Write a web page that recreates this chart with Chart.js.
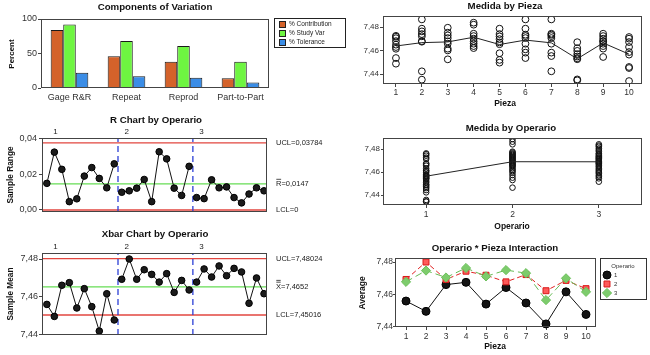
<!DOCTYPE html>
<html><head><meta charset="utf-8">
<script src="https://cdn.jsdelivr.net/npm/chart.js@4/dist/chart.umd.min.js"></script>
<style>
html,body{margin:0;padding:0;background:#fff;}
#wrap{position:relative;width:650px;height:355px;overflow:hidden;background:#fff;}
canvas{position:absolute;left:0;top:0;}
</style></head><body>
<div id="wrap">
<canvas id="c1" width="650" height="355"></canvas>
<canvas id="c2" width="650" height="355"></canvas>
<canvas id="c3" width="650" height="355"></canvas>
<canvas id="c4" width="650" height="355"></canvas>
<canvas id="c5" width="650" height="355"></canvas>
<canvas id="c6" width="650" height="355"></canvas>
</div>
<script>
// ---------------- DATA ----------------
const componentCats = ['Gage R&R', 'Repeat', 'Reprod', 'Part-to-Part'];
const seriesNames = ['% Contribution', '% Study Var', '% Tolerance'];
const pctContribution = [84, 46, 38, 14];
const pctStudyVar = [92, 68, 61, 38];
const pctTolerance = [22, 17, 15, 8];
const percentTicks = [0, 50, 100];

const operarioNames = ['1', '2', '3'];
const rangeOp1 = [0.0150, 0.0326, 0.0229, 0.0047, 0.0063, 0.0191, 0.0239, 0.0178, 0.0125, 0.0260];
const rangeOp2 = [0.0100, 0.0108, 0.0123, 0.0172, 0.0047, 0.0328, 0.0288, 0.0123, 0.0082, 0.0246];
const rangeOp3 = [0.0070, 0.0064, 0.0170, 0.0125, 0.0130, 0.0070, 0.0040, 0.0090, 0.0125, 0.0108];
const rangeLimits = [0.03784, 0.0147, 0];          // UCL, Rbar, LCL
const rangeTicks = [0, 0.02, 0.04];

const meanOp1 = [7.4558, 7.4494, 7.4660, 7.4674, 7.4539, 7.4642, 7.4546, 7.4416, 7.4615, 7.4475];
const meanOp2 = [7.4692, 7.4800, 7.4692, 7.4743, 7.4718, 7.4677, 7.4722, 7.4622, 7.4686, 7.4635];
const meanOp3 = [7.4677, 7.4747, 7.4704, 7.4763, 7.4711, 7.4750, 7.4731, 7.4564, 7.4699, 7.4615];
const meanLimits = [7.48024, 7.4652, 7.45016];     // UCL, Xbarbar, LCL
const meanTicks = [7.44, 7.46, 7.48];

const piezaLabels = [1, 2, 3, 4, 5, 6, 7, 8, 9, 10];
const pieza01 = [7.4725, 7.4718, 7.4705, 7.4680, 7.4650, 7.4630, 7.4615, 7.4536, 7.4488];
const pieza02 = [7.4865, 7.4786, 7.4763, 7.4740, 7.4721, 7.4680, 7.4675, 7.4423, 7.4352];
const pieza03 = [7.4794, 7.4752, 7.4729, 7.4706, 7.4678, 7.4658, 7.4616, 7.4601, 7.4525];
const pieza04 = [7.4837, 7.4820, 7.4743, 7.4723, 7.4701, 7.4678, 7.4658, 7.4638, 7.4621];
const pieza05 = [7.4786, 7.4740, 7.4720, 7.4697, 7.4669, 7.4654, 7.4577, 7.4520, 7.4497];
const pieza06 = [7.4865, 7.4786, 7.4735, 7.4723, 7.4706, 7.4658, 7.4610, 7.4582, 7.4536];
const pieza07 = [7.4865, 7.4743, 7.4735, 7.4723, 7.4706, 7.4658, 7.4582, 7.4553, 7.4423];
const pieza08 = [7.4671, 7.4620, 7.4597, 7.4569, 7.4549, 7.4534, 7.4526, 7.4354, 7.4346];
const pieza09 = [7.4743, 7.4723, 7.4701, 7.4680, 7.4678, 7.4658, 7.4638, 7.4616, 7.4545];
const pieza10 = [7.4715, 7.4701, 7.4672, 7.4630, 7.4587, 7.4565, 7.4460, 7.4451, 7.4340];
const medidaTicks = [7.44, 7.46, 7.48];

const operarioLabels = [1, 2, 3];
const operario1Values = [7.4762, 7.4755, 7.4742, 7.4725, 7.4713, 7.4675, 7.4668, 7.4655, 7.4632, 7.4615,
  7.4609, 7.4598, 7.4580, 7.4572, 7.4565, 7.4559, 7.4550, 7.4545, 7.4538, 7.4522,
  7.4510, 7.4493, 7.4485, 7.4472, 7.4460, 7.4443, 7.4423, 7.4357, 7.4345, 7.4342];
const operario2Values = [7.4887, 7.4864, 7.4841, 7.4777, 7.4770, 7.4762, 7.4755, 7.4748, 7.4740, 7.4733,
  7.4726, 7.4719, 7.4712, 7.4704, 7.4697, 7.4690, 7.4682, 7.4675, 7.4668, 7.4661,
  7.4654, 7.4646, 7.4632, 7.4620, 7.4609, 7.4595, 7.4574, 7.4551, 7.4530, 7.4464];
const operario3Values = [7.4841, 7.4830, 7.4820, 7.4805, 7.4791, 7.4780, 7.4762, 7.4755, 7.4742, 7.4735,
  7.4726, 7.4719, 7.4712, 7.4704, 7.4696, 7.4690, 7.4682, 7.4675, 7.4668, 7.4655,
  7.4645, 7.4632, 7.4620, 7.4609, 7.4598, 7.4588, 7.4572, 7.4559, 7.4545, 7.4516];

// ---------------- HELPERS ----------------
const FONT = "'Liberation Sans', Arial, Helvetica, sans-serif";
const W = 650, H = 355;
const f = (size, weight) => (weight ? weight + ' ' : '') + size + 'px ' + FONT;
const base = {
  responsive: false, animation: false, events: [],
  plugins: { legend: { display: false }, tooltip: { enabled: false }, title: { display: false } }
};
function pad(a, yW, xH) {
  return { left: a.l - yW, top: a.t, right: W - a.r, bottom: H - a.b - xH };
}
const setTicks = arr => s => { s.ticks = arr.map(v => ({ value: v })); };
const comma = d => v => Number(v).toFixed(d).replace('.', ',');
const commaRaw = v => String(v).replace('.', ',');
const mean = arr => arr.reduce((s, v) => s + v, 0) / arr.length;

function yAxis(o) {
  return {
    type: 'linear', position: 'left', min: o.min, max: o.max,
    afterBuildTicks: setTicks(o.ticks),
    afterFit: s => { s.width = 30; s.paddingTop = 0; s.paddingBottom = 0; },
    grid: { drawOnChartArea: false, drawTicks: true, tickLength: o.tl, tickColor: '#444', color: '#444' },
    border: { display: false },
    ticks: { font: { size: o.fs }, color: '#333', padding: o.pad, callback: o.cb, autoSkip: false, maxRotation: 0 }
  };
}
function xLinear(o) {
  return {
    type: 'linear', position: 'bottom', min: o.min, max: o.max,
    afterBuildTicks: setTicks(o.ticks),
    afterFit: s => { s.height = 20; s.paddingLeft = 0; s.paddingRight = 0; },
    grid: { drawOnChartArea: false, drawTicks: true, tickLength: o.tl, tickColor: '#444', color: '#444' },
    border: { display: false },
    ticks: { font: { size: o.fs }, color: '#333', padding: o.pad, autoSkip: false, maxRotation: 0, callback: v => String(v) }
  };
}
function txt(ctx, s, x, y, font, align, color) {
  ctx.font = font; ctx.fillStyle = color || '#111';
  ctx.textAlign = align || 'center'; ctx.textBaseline = 'middle';
  ctx.fillText(s, x, y);
}
function vtxt(ctx, s, x, y, font) {
  ctx.save(); ctx.translate(x, y); ctx.rotate(-Math.PI / 2); txt(ctx, s, 0, 0, font); ctx.restore();
}
function frame(chart) {
  const a = chart.chartArea, ctx = chart.ctx;
  ctx.strokeStyle = '#444'; ctx.lineWidth = 1;
  ctx.strokeRect(Math.round(a.left) + 0.5, Math.round(a.top) + 0.5,
    Math.round(a.right - a.left) - 1, Math.round(a.bottom - a.top) - 1);
}
const deco = (id, fn) => ({ id, afterDraw(chart) { const ctx = chart.ctx; ctx.save(); fn(chart, ctx); ctx.restore(); } });
function marker(ctx, style, x, y, r) {
  ctx.beginPath();
  if (style === 'rect') { const s = r * Math.SQRT1_2; ctx.rect(x - s, y - s, 2 * s, 2 * s); }
  else if (style === 'rectRot') { ctx.moveTo(x, y - r); ctx.lineTo(x + r, y); ctx.lineTo(x, y + r); ctx.lineTo(x - r, y); ctx.closePath(); }
  else { ctx.arc(x, y, r, 0, Math.PI * 2); }
  ctx.fill(); ctx.stroke();
}

const TITLE = f(9.7, 'bold');

// ---------------- 1. Components of Variation ----------------
const A1 = { l: 41, t: 19, r: 269, b: 88 };
const barColors = ['#d4622a', '#6ef541', '#3b8de6'];
new Chart(document.getElementById('c1'), {
  type: 'bar',
  data: {
    labels: componentCats,
    datasets: [pctContribution, pctStudyVar, pctTolerance].map((d, i) => ({
      label: seriesNames[i], data: d, backgroundColor: barColors[i],
      borderColor: '#1a1a1a', borderWidth: 1, categoryPercentage: 0.66, barPercentage: 1.0
    }))
  },
  options: {
    ...base,
    layout: { padding: pad(A1, 30, 20) },
    scales: {
      x: {
        type: 'category', grid: { display: false, drawTicks: false, tickLength: 0 }, border: { display: false },
        afterFit: s => { s.height = 20; s.paddingLeft = 0; s.paddingRight = 0; },
        ticks: { font: { size: 9 }, color: '#333', padding: 4, maxRotation: 0, autoSkip: false }
      },
      y: yAxis({ min: 0, max: 100, ticks: percentTicks, tl: 3, pad: 1, fs: 9, cb: v => String(v) })
    }
  },
  plugins: [deco('d1', (chart, ctx) => {
    frame(chart);
    txt(ctx, 'Components of Variation', 155, 7, TITLE);
    vtxt(ctx, 'Percent', 12, 54, f(8, 'bold'));
    ctx.strokeStyle = '#222'; ctx.lineWidth = 1;
    ctx.strokeRect(274.5, 18.5, 71, 29);
    chart.data.datasets.forEach((ds, i) => {
      const yy = 24.5 + i * 9;
      ctx.fillStyle = ds.backgroundColor; ctx.fillRect(279, yy - 3.5, 7, 7);
      ctx.strokeStyle = '#222'; ctx.strokeRect(279.5, yy - 3, 6, 6);
      txt(ctx, ds.label, 289, yy, f(6.5), 'left', '#222');
    });
  })]
});

// ---------------- control chart factory ----------------
function controlChart(id, o) {
  const groups = o.groups, n = groups[0].length;
  const xMin = 0.35, xMax = groups.length * n + 0.4;
  const datasets = [];
  groups.forEach((g, gi) => datasets.push({
    data: g.map((v, j) => ({ x: gi * n + j + 1, y: v })), showLine: true,
    borderColor: '#111', borderWidth: 1, pointRadius: 3.3,
    pointBackgroundColor: '#1b1b1b', pointBorderColor: '#000', pointBorderWidth: 1, order: 1
  }));
  const limColors = ['#e2463f', '#66dd55', '#e2463f'];
  o.limits.forEach((v, i) => datasets.push({
    data: [{ x: xMin, y: v }, { x: xMax, y: v }], showLine: true,
    borderColor: limColors[i], borderWidth: 1.3, pointRadius: 0, order: 3
  }));
  for (let gi = 1; gi < groups.length; gi++) datasets.push({
    data: [{ x: gi * n + 0.5, y: o.min }, { x: gi * n + 0.5, y: o.max }], showLine: true,
    borderColor: '#2c3fd6', borderWidth: 1.3, borderDash: [6, 4], pointRadius: 0, order: 2
  });
  new Chart(document.getElementById(id), {
    type: 'scatter',
    data: { datasets },
    options: {
      ...base,
      layout: { padding: pad(o.area, 30, 0) },
      scales: {
        x: { type: 'linear', min: xMin, max: xMax, display: false },
        y: yAxis({ min: o.min, max: o.max, ticks: o.ticks, tl: 3, pad: o.pad, fs: 9, cb: comma(2) })
      }
    },
    plugins: [deco('dc' + id, (chart, ctx) => {
      frame(chart);
      const xs = chart.scales.x, ys = chart.scales.y;
      txt(ctx, o.title, o.titleX, o.titleY, TITLE);
      vtxt(ctx, o.yTitle, 11, (o.area.t + o.area.b) / 2, f(8.3, 'bold'));
      const labelPos = [2.15, 11.65, 21.65];
      operarioNames.forEach((nm, i) => txt(ctx, nm, xs.getPixelForValue(labelPos[i]), o.opY, f(8), 'center', '#222'));
      const names = ['UCL=', o.centerSym + '=', 'LCL='];
      o.limits.forEach((v, i) => {
        const py = ys.getPixelForValue(v);
        const font = f(7.5);
        txt(ctx, names[i] + commaRaw(v), 276, py, font, 'left', '#222');
        if (i === 1) {
          ctx.font = font;
          const wSym = ctx.measureText(o.centerSym).width;
          ctx.strokeStyle = '#222'; ctx.lineWidth = 0.8;
          const bars = o.doubleBar ? [py - 4.6, py - 6.4] : [py - 4.6];
          bars.forEach(by => { ctx.beginPath(); ctx.moveTo(276.3, by); ctx.lineTo(275.7 + wSym, by); ctx.stroke(); });
        }
      });
    })]
  });
}

controlChart('c2', {
  groups: [rangeOp1, rangeOp2, rangeOp3], limits: rangeLimits, ticks: rangeTicks,
  area: { l: 42, t: 138, r: 267, b: 212 }, min: -0.00113, max: 0.04056, pad: 2,
  title: 'R Chart by Operario', titleX: 156, titleY: 120, yTitle: 'Sample Range', opY: 132,
  centerSym: 'R', doubleBar: false
});
controlChart('c3', {
  groups: [meanOp1, meanOp2, meanOp3], limits: meanLimits, ticks: meanTicks,
  area: { l: 42, t: 253, r: 267, b: 335 }, min: 7.4395, max: 7.4832, pad: 1,
  title: 'Xbar Chart by Operario', titleX: 155, titleY: 234, yTitle: 'Sample Mean', opY: 247,
  centerSym: 'X', doubleBar: true
});

// ---------------- 4. Medida by Pieza ----------------
const piezaGroups = [pieza01, pieza02, pieza03, pieza04, pieza05, pieza06, pieza07, pieza08, pieza09, pieza10];
const A4 = { l: 383, t: 16, r: 642, b: 84 };
new Chart(document.getElementById('c4'), {
  type: 'scatter',
  data: {
    datasets: [
      {
        data: piezaGroups.map((g, i) => ({ x: piezaLabels[i], y: mean(g) })), showLine: true,
        borderColor: '#222', borderWidth: 1, pointRadius: 0, order: 1
      },
      {
        data: piezaGroups.flatMap((g, i) => g.map(v => ({ x: piezaLabels[i], y: v }))),
        pointRadius: 3.4, pointBackgroundColor: 'rgba(0,0,0,0)', pointBorderColor: '#111', pointBorderWidth: 1, order: 2
      }
    ]
  },
  options: {
    ...base,
    layout: { padding: pad(A4, 30, 20) },
    scales: {
      x: xLinear({ min: 0.5, max: 10.5, ticks: piezaLabels, tl: 3, pad: 1, fs: 8.5 }),
      y: yAxis({ min: 7.4315, max: 7.4894, ticks: medidaTicks, tl: 3, pad: 1, fs: 8, cb: comma(2) })
    }
  },
  plugins: [deco('d4', (chart, ctx) => {
    frame(chart);
    txt(ctx, 'Medida by Pieza', 505, 6, TITLE);
    txt(ctx, 'Pieza', 505, 104, f(8.5, 'bold'));
  })]
});

// ---------------- 5. Medida by Operario ----------------
const operarioGroups = [operario1Values, operario2Values, operario3Values];
const A5 = { l: 383, t: 138, r: 642, b: 205 };
new Chart(document.getElementById('c5'), {
  type: 'scatter',
  data: {
    datasets: [
      {
        data: operarioGroups.map((g, i) => ({ x: operarioLabels[i], y: mean(g) })), showLine: true,
        borderColor: '#222', borderWidth: 1, pointRadius: 0, order: 1
      },
      {
        data: operarioGroups.flatMap((g, i) => g.map(v => ({ x: operarioLabels[i], y: v }))),
        pointRadius: 2.8, pointBackgroundColor: 'rgba(0,0,0,0)', pointBorderColor: '#111', pointBorderWidth: 1, order: 2
      }
    ]
  },
  options: {
    ...base,
    layout: { padding: pad(A5, 30, 20) },
    scales: {
      x: xLinear({ min: 0.5, max: 3.5, ticks: operarioLabels, tl: 3, pad: 2, fs: 8.5 }),
      y: yAxis({ min: 7.4313, max: 7.4896, ticks: medidaTicks, tl: 2, pad: 1, fs: 8, cb: comma(2) })
    }
  },
  plugins: [deco('d5', (chart, ctx) => {
    frame(chart);
    txt(ctx, 'Medida by Operario', 511, 128, TITLE);
    txt(ctx, 'Operario', 512, 227, f(8.5, 'bold'));
  })]
});

// ---------------- 6. Operario * Pieza Interaction ----------------
const A6 = { l: 395, t: 258, r: 596, b: 327 };
const interStyles = [
  { pointStyle: 'circle', r: 4, bg: '#141414', bd: '#000', line: '#111', dash: [] },
  { pointStyle: 'rect', r: 4.2, bg: '#ff5a5a', bd: '#d81818', line: '#e02222', dash: [5, 3] },
  { pointStyle: 'rectRot', r: 4.6, bg: '#7dcc6c', bd: '#6cc05c', line: '#66bb55', dash: [7, 4] }
];
new Chart(document.getElementById('c6'), {
  type: 'scatter',
  data: {
    datasets: [meanOp1, meanOp2, meanOp3].map((g, i) => ({
      label: operarioNames[i],
      data: g.map((v, j) => ({ x: piezaLabels[j], y: v })), showLine: true,
      borderColor: interStyles[i].line, borderWidth: 1, borderDash: interStyles[i].dash,
      pointStyle: interStyles[i].pointStyle, pointRadius: interStyles[i].r,
      pointBackgroundColor: interStyles[i].bg, pointBorderColor: interStyles[i].bd, pointBorderWidth: 1,
      clip: false, order: 3 - i
    }))
  },
  options: {
    ...base,
    layout: { padding: pad(A6, 30, 20) },
    scales: {
      x: xLinear({ min: 0.45, max: 10.5, ticks: piezaLabels, tl: 3, pad: 2, fs: 8.5 }),
      y: yAxis({ min: 7.4397, max: 7.4825, ticks: meanTicks, tl: 2, pad: 0, fs: 8.5, cb: comma(2) })
    }
  },
  plugins: [deco('d6', (chart, ctx) => {
    frame(chart);
    txt(ctx, 'Operario * Pieza Interaction', 495, 248, TITLE);
    vtxt(ctx, 'Average', 363, 293, f(8.5, 'bold'));
    txt(ctx, 'Pieza', 495, 347, f(8.5, 'bold'));
    ctx.strokeStyle = '#333'; ctx.lineWidth = 1;
    ctx.strokeRect(600.5, 258.5, 46, 41);
    txt(ctx, 'Operario', 623, 266, f(6), 'center', '#333');
    chart.data.datasets.forEach((ds, i) => {
      const yy = 275 + i * 9;
      ctx.fillStyle = ds.pointBackgroundColor; ctx.strokeStyle = ds.pointBorderColor; ctx.lineWidth = 1;
      marker(ctx, ds.pointStyle, 607, yy, ds.pointRadius);
      txt(ctx, ds.label, 614, yy, f(6), 'left', '#333');
    });
  })]
});
</script>
</body></html>
